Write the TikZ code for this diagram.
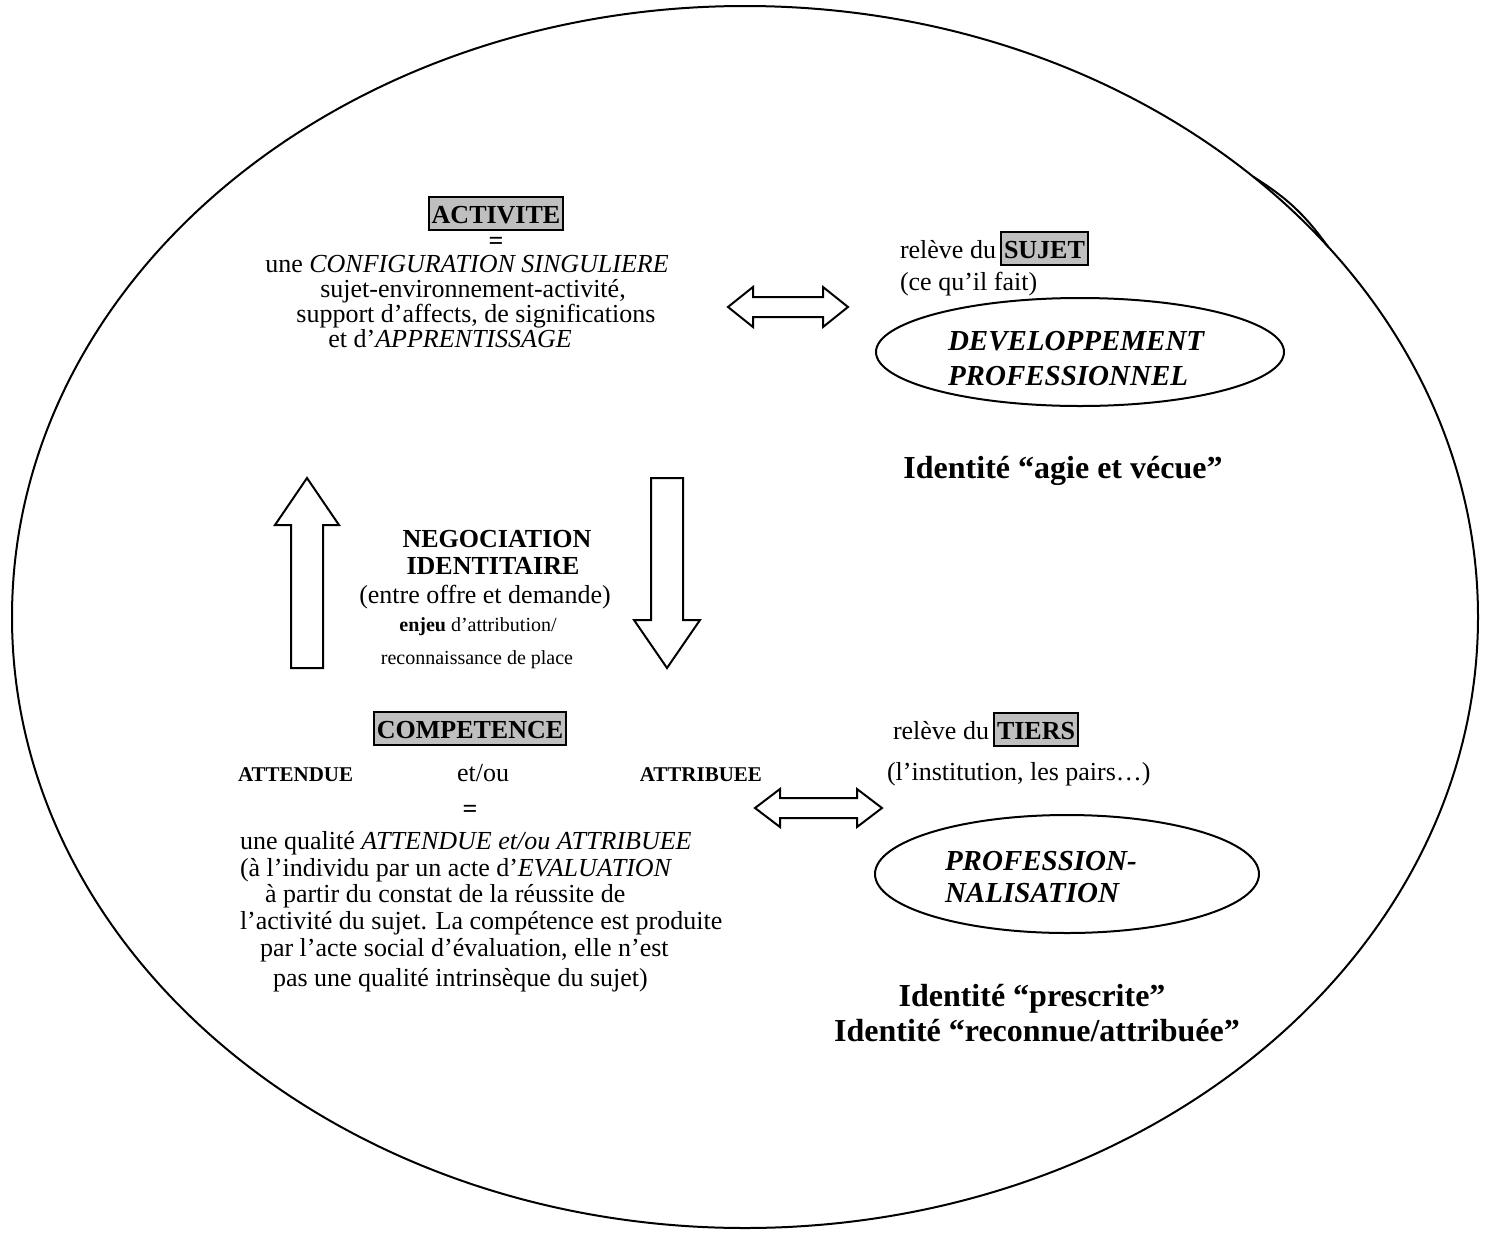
\documentclass[tikz,border=0pt]{standalone}
\usepackage{fontspec}
\setmainfont{Liberation Serif}
\usetikzlibrary{calc}
\begin{document}
\begin{tikzpicture}[x=0.5pt,y=-0.5pt,
  every node/.style={inner sep=0pt, outer sep=0pt},
  keybox/.style={draw=black, line width=1.2pt, fill=black!25, inner xsep=1.5pt, inner ysep=1pt, text height=12pt, text depth=2.5pt, font=\fontsize{13}{15}\selectfont\bfseries},
  txt/.style={font=\fontsize{13}{15}\selectfont},
  smalltxt/.style={font=\fontsize{10}{12}\selectfont},
  smallbold/.style={font=\fontsize{10.5}{12}\selectfont\bfseries},
  boldtxt/.style={font=\fontsize{13}{15}\selectfont\bfseries},
  identtxt/.style={font=\fontsize{16}{19}\selectfont\bfseries},
  bitxt/.style={font=\fontsize{14.5}{17}\selectfont\bfseries\itshape},
  outline/.style={draw=black, line width=1pt},
  blockarrow/.style={draw=black, line width=1pt, fill=white, line join=miter},
]
\useasboundingbox (0,0) rectangle (1485,1233);

% big ellipse and bulge
\coordinate (bigc) at (745,617);
\draw[outline] (bigc) ellipse [x radius=366.5pt, y radius=305.5pt];
\coordinate (bulgeA) at ($(bigc)+(-46.1:733 and 611)$);
\coordinate (bulgeB) at ($(bigc)+(-37.3:733 and 611)$);
\draw[outline] (bulgeA) to[bend left=11] (bulgeB);

% ACTIVITE block
\node[keybox] (activite) at (496,213.5) {ACTIVITE};
\node[boldtxt, anchor=base] (eq1) at (496,249) {=};
\node[txt, anchor=base] (a1) at (467,272) {une \textit{CONFIGURATION SINGULIERE}};
\node[txt, anchor=base] (a2) at (473,297) {sujet-environnement-activité,};
\node[txt, anchor=base] (a3) at (476,322) {support d’affects, de significations};
\node[txt, anchor=base] (a4) at (450,347) {et d’\textit{APPRENTISSAGE}};

% top double arrow
\coordinate (dblA) at (788,307);
\draw[blockarrow, shift={(dblA)}] (-60,0) -- (-35,-20) -- (-35,-10) -- (35,-10) -- (35,-20) -- (60,0) -- (35,20) -- (35,10) -- (-35,10) -- (-35,20) -- cycle;

% SUJET side
\node[txt, anchor=base west] (rel1) at (900,258) {relève du};
\node[keybox, anchor=base west] (sujet) at ([xshift=2.5pt]rel1.base east) {SUJET};
\node[txt, anchor=base west] (cequ) at (900,290) {(ce qu’il fait)};
\coordinate (devc) at (1080,352);
\draw[outline] (devc) ellipse [x radius=102pt, y radius=27pt];
\node[bitxt, anchor=base west] (dev1) at (948,350) {DEVELOPPEMENT};
\node[bitxt, anchor=base west] (dev2) at (948,385) {PROFESSIONNEL};
\node[identtxt, anchor=base] (idagie) at (1063,478) {Identité “agie et vécue”};

% vertical block arrows
\coordinate (upA) at (307,0);
\draw[blockarrow, shift={(upA)}] (0,478) -- (32,525) -- (16,525) -- (16,668) -- (-16,668) -- (-16,525) -- (-32,525) -- cycle;
\coordinate (downA) at (667,0);
\draw[blockarrow, shift={(downA)}] (-16,478) -- (16,478) -- (16,620) -- (33,620) -- (0,668) -- (-33,620) -- (-16,620) -- cycle;

% NEGOCIATION block
\node[boldtxt, anchor=base] (neg1) at (497,547) {NEGOCIATION};
\node[boldtxt, anchor=base] (neg2) at (493,574) {IDENTITAIRE};
\node[txt, anchor=base] (neg3) at (485,603) {(entre offre et demande)};
\node[smalltxt, anchor=base] (neg4) at (478,631) {\textbf{enjeu} d’attribution/};
\node[smalltxt, anchor=base] (neg5) at (477,664) {reconnaissance de place};

% COMPETENCE block
\node[keybox] (competence) at (470,728.5) {COMPETENCE};
\node[smallbold, anchor=base west] (attendue) at (238,781) {ATTENDUE};
\node[txt, anchor=base west] (etou) at (457,781) {et/ou};
\node[smallbold, anchor=base east] (attribuee) at (762,781) {ATTRIBUEE};
\node[boldtxt, anchor=base] (eq2) at (470,817) {=};
\node[txt, anchor=base west] (c1) at (240,849) {une qualité \textit{ATTENDUE et/ou ATTRIBUEE}};
\node[txt, anchor=base west] (c2) at (240,876) {(à l’individu par un acte d’\textit{EVALUATION}};
\node[txt, anchor=base west] (c3) at (265,902) {à partir du constat de la réussite de};
\node[txt, anchor=base west] (c4) at (240,929) {l’activité du sujet. La compétence est produite};
\node[txt, anchor=base west] (c5) at (260,956) {par l’acte social d’évaluation, elle n’est};
\node[txt, anchor=base west] (c6) at (273,986) {pas une qualité intrinsèque du sujet)};

% bottom double arrow
\coordinate (dblB) at (818.5,808);
\draw[blockarrow, shift={(dblB)}] (-63.5,0) -- (-38.5,-19) -- (-38.5,-10) -- (38.5,-10) -- (38.5,-19) -- (63.5,0) -- (38.5,19) -- (38.5,10) -- (-38.5,10) -- (-38.5,19) -- cycle;

% TIERS side
\node[txt, anchor=base west] (rel2) at (893,739) {relève du};
\node[keybox, anchor=base west] (tiers) at ([xshift=2.5pt]rel2.base east) {TIERS};
\node[txt, anchor=base west] (instit) at (887,780) {(l’institution, les pairs…)};
\coordinate (profc) at (1067,874);
\draw[outline] (profc) ellipse [x radius=96pt, y radius=29.5pt];
\node[bitxt, anchor=base west] (prof1) at (945,870) {PROFESSION-};
\node[bitxt, anchor=base west] (prof2) at (945,902) {NALISATION};
\node[identtxt, anchor=base] (idpres) at (1032,1006) {Identité “prescrite”};
\node[identtxt, anchor=base] (idreco) at (1037,1041) {Identité “reconnue/attribuée”};
\end{tikzpicture}
\end{document}
